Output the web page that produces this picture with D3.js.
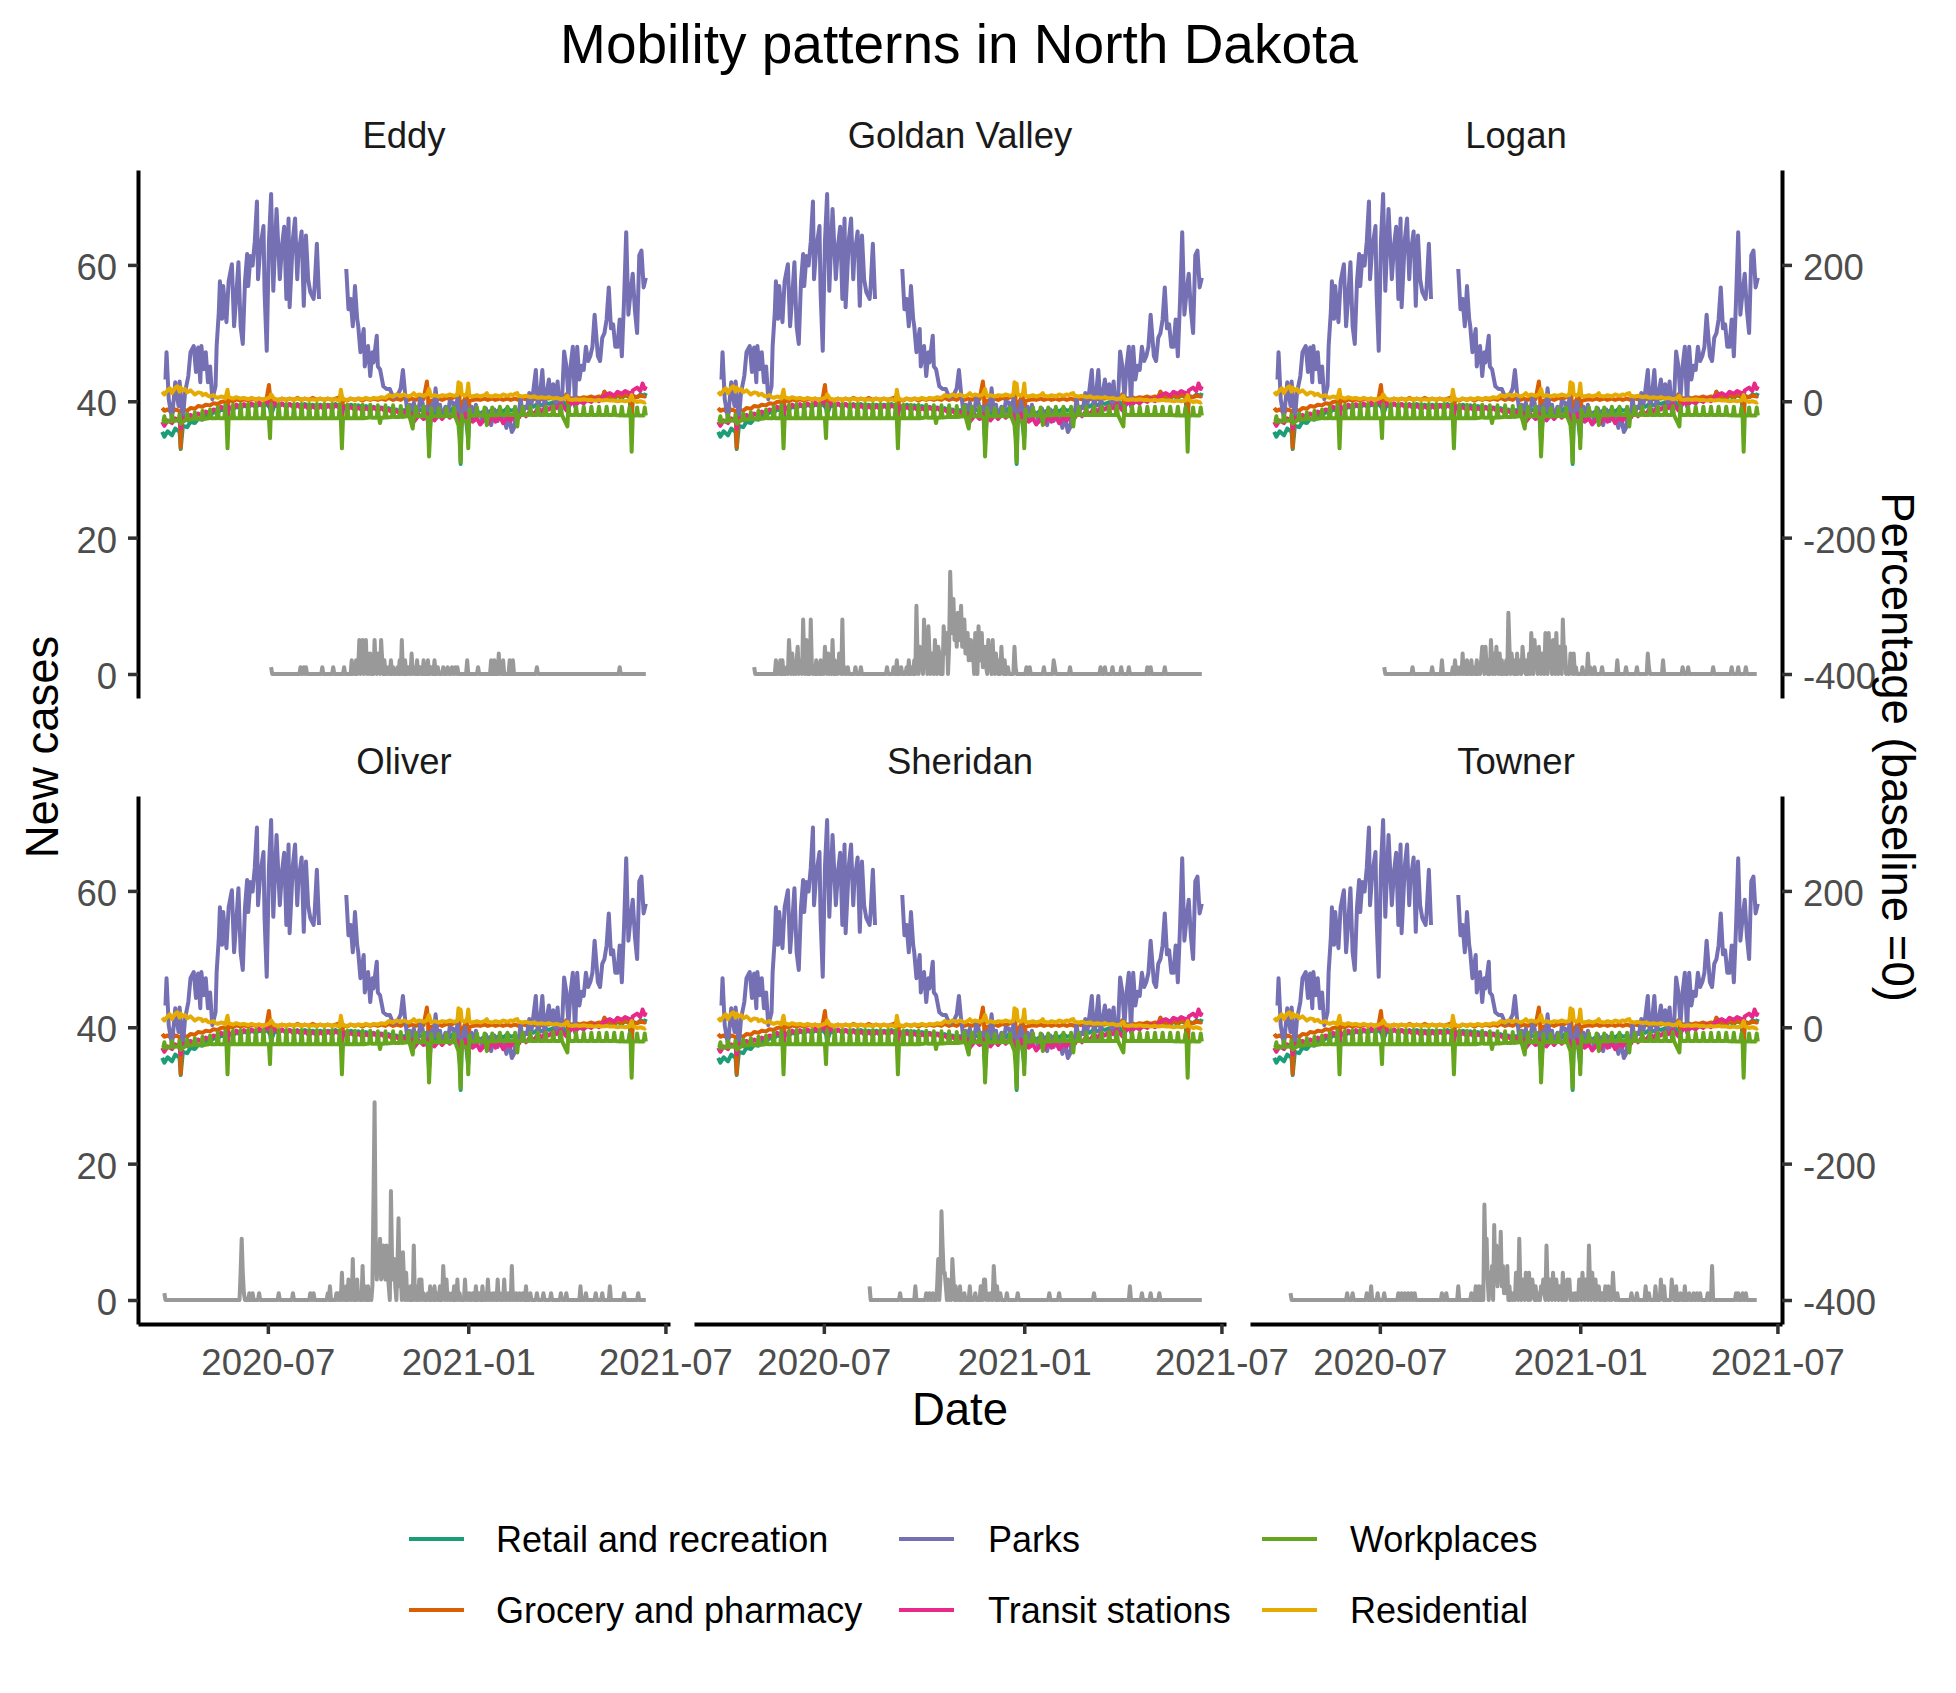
<!DOCTYPE html>
<html>
<head>
<meta charset="utf-8">
<script src="https://cdn.jsdelivr.net/npm/d3@7"></script>
<style>
  body { margin: 0; background: #fff; }
  text { font-family: "Liberation Sans", Arial, sans-serif; }
</style>
</head>
<body>
<svg id="chart" width="1956" height="1693"></svg>
<script>
// Day 0 of every series below is 2020-03-26
var startDay = new Date(2020, 2, 26);

var counties = ["Eddy", "Goldan Valley", "Logan", "Oliver", "Sheridan", "Towner"];
var categories = ["Retail and recreation", "Grocery and pharmacy", "Parks", "Transit stations", "Workplaces", "Residential"];
var colors = ["#1b9e77", "#d95f02", "#7570b3", "#e7298a", "#66a61e", "#e6ab02"];

var xTicksLabel = "%Y-%m";
var leftTicks = [0, 20, 40, 60];
var rightTicks = [-400, -200, 0, 200];

// Mobility, percent change from baseline: [day, pct]
var retail = [[0,-45],[2,-52],[5,-44],[9,-50],[12,-40],[16,-45],[17,-70],[19,-36],[23,-38],[26,-30],[30,-32],[33,-26],[37,-27],[40,-20],[44,-22],[47,-16],[51,-17],[54,-12],[58,-14],[60,-30],[61,-10],[65,-12],[68,-8],[72,-10],[75,-6],[79,-9],[82,-5],[86,-8],[89,-5],[93,-7],[96,-4],[99,-10],[100,-20],[103,-6],[107,-8],[110,-4],[114,-7],[117,-4],[121,-8],[124,-4],[128,-7],[131,-4],[135,-8],[138,-5],[142,-8],[145,-5],[149,-8],[152,-5],[156,-7],[159,-4],[163,-8],[165,-30],[166,-6],[170,-9],[173,-5],[177,-8],[180,-6],[184,-9],[187,-7],[191,-10],[194,-8],[198,-11],[201,-9],[205,-12],[208,-10],[212,-14],[215,-12],[219,-16],[222,-13],[226,-16],[229,-14],[233,-18],[236,-12],[240,-15],[243,-8],[245,-60],[247,-12],[250,-18],[254,-14],[257,-17],[261,-10],[264,-15],[268,-8],[271,-10],[273,-20],[274,-92],[275,-25],[278,-15],[281,-55],[282,-20],[285,-18],[289,-15],[292,-18],[296,-14],[299,-17],[303,-12],[306,-16],[310,-12],[313,-15],[317,-10],[320,-14],[324,-12],[327,-15],[331,-8],[334,-10],[338,-5],[341,-8],[345,-3],[348,-6],[352,-2],[355,-4],[359,-1],[362,-3],[366,0],[369,-2],[373,-18],[374,2],[376,-1],[380,3],[383,0],[387,4],[390,1],[394,5],[397,2],[401,6],[404,3],[406,14],[408,4],[411,7],[415,4],[418,8],[422,5],[425,9],[429,6],[431,-35],[432,8],[436,6],[439,10],[443,8],[444,12]];

var grocery = [[0,-10],[2,-14],[5,-12],[9,-16],[12,-12],[16,-14],[17,-68],[18,-25],[19,-12],[23,-14],[26,-10],[30,-11],[33,-7],[37,-8],[40,-5],[44,-6],[47,-3],[51,-4],[54,-1],[58,0],[60,-20],[61,2],[65,0],[68,3],[72,1],[75,3],[79,1],[82,4],[86,2],[89,4],[93,2],[96,5],[98,24],[99,8],[100,-10],[103,3],[107,2],[110,4],[114,2],[117,4],[121,2],[124,5],[128,2],[131,4],[135,2],[138,5],[142,2],[145,4],[149,2],[152,4],[156,2],[159,4],[163,6],[164,10],[165,-25],[166,3],[170,1],[173,4],[177,2],[180,4],[184,1],[187,4],[191,2],[194,4],[198,2],[201,4],[205,2],[208,5],[212,2],[215,4],[219,2],[222,5],[226,2],[229,4],[233,2],[236,5],[240,3],[243,29],[244,12],[245,-50],[246,0],[250,2],[254,4],[257,2],[261,5],[264,3],[268,6],[271,8],[272,18],[273,5],[274,-60],[275,-5],[278,4],[280,12],[281,-30],[282,0],[285,2],[289,3],[292,2],[296,4],[299,2],[303,4],[306,2],[310,4],[313,2],[317,4],[320,2],[324,4],[327,2],[331,4],[334,3],[338,5],[341,3],[345,5],[348,3],[352,5],[355,4],[359,6],[362,4],[366,6],[369,4],[371,10],[373,-5],[374,5],[376,4],[380,6],[383,4],[387,6],[390,5],[394,7],[397,5],[401,7],[404,6],[406,14],[408,6],[411,8],[415,6],[418,9],[422,7],[425,9],[429,8],[430,12],[431,-20],[432,7],[436,6],[439,8],[443,7],[444,8]];

// Parks has no values between late August and mid September 2020
var parks = [[3,32],[4,72],[6,3],[9,-26],[12,28],[15,-7],[16,29],[19,-26],[21,13],[24,37],[26,72],[29,81],[31,43],[33,79],[35,28],[36,81],[38,47],[40,72],[42,28],[44,51],[46,3],[49,22],[50,81],[52,131],[53,176],[55,121],[56,169],[59,116],[61,176],[64,201],[66,110],[68,154],[70,204],[72,110],[74,84],[76,175],[78,216],[79,169],[81,213],[83,199],[85,234],[87,293],[88,179],[90,224],[93,257],[94,160],[96,74],[98,234],[100,304],[102,162],[105,282],[108,179],[110,228],[112,256],[114,150],[116,268],[117,138],[120,238],[122,268],[124,179],[125,213],[128,249],[130,140],[132,243],[134,179],[136,160],[139,150],[140,169],[142,231],[144,150],[156,null],[169,194],[171,135],[173,150],[175,110],[177,169],[179,121],[180,110],[182,72],[185,106],[186,51],[189,81],[191,37],[193,72],[194,57],[197,96],[198,51],[200,47],[203,22],[206,18],[209,18],[212,6],[215,7],[217,12],[219,19],[221,46],[223,12],[225,-15],[227,-5],[229,-12],[231,-2],[233,-20],[235,-15],[237,5],[239,-2],[241,-25],[243,-8],[245,-30],[247,-5],[249,-15],[251,19],[253,-15],[255,-5],[257,-25],[260,-8],[262,-20],[264,0],[267,-2],[269,-22],[271,5],[274,-30],[276,-18],[278,0],[281,-25],[284,-8],[286,-28],[288,-5],[290,-20],[292,-18],[294,-30],[297,-10],[300,-22],[302,-35],[305,-12],[308,-29],[311,-18],[314,-25],[316,-39],[318,-20],[321,-45],[323,-39],[325,-15],[327,-25],[329,5],[331,-20],[333,-8],[335,-10],[337,12],[339,-5],[341,19],[343,46],[345,-15],[347,12],[349,46],[351,-8],[353,12],[355,32],[357,5],[359,25],[361,-2],[363,29],[365,-15],[367,-2],[369,73],[371,52],[373,5],[375,52],[377,80],[379,-8],[381,80],[383,32],[385,52],[387,46],[389,80],[391,59],[393,66],[395,80],[397,127],[400,66],[402,59],[404,93],[406,100],[408,120],[410,167],[412,107],[414,113],[416,80],[418,80],[420,120],[422,66],[424,147],[426,248],[428,127],[430,160],[432,187],[434,133],[436,100],[438,214],[440,221],[442,167],[444,181]];

var transit = [[0,-30],[2,-36],[5,-28],[9,-32],[12,-25],[16,-30],[17,-40],[19,-24],[23,-28],[26,-20],[30,-25],[33,-18],[37,-22],[40,-15],[44,-18],[47,-12],[51,-14],[54,-8],[58,-12],[60,-20],[61,-8],[65,-12],[68,-5],[72,-10],[75,-4],[79,-9],[82,-3],[86,-8],[89,-2],[93,-7],[96,2],[99,-6],[100,-12],[103,-2],[107,-8],[110,-3],[114,-9],[117,-4],[121,-10],[124,-5],[128,-11],[131,-6],[135,-12],[138,-7],[142,-12],[145,-7],[149,-12],[152,-6],[156,-11],[159,-6],[163,-10],[165,-18],[166,-8],[170,-13],[173,-8],[177,-13],[180,-9],[184,-14],[187,-10],[191,-14],[194,-9],[198,-14],[201,-10],[205,-15],[208,-12],[212,-18],[215,-14],[219,-20],[222,-15],[226,-22],[229,-18],[231,-30],[233,-26],[236,-20],[240,-26],[243,-18],[245,-40],[247,-22],[250,-28],[252,-24],[254,-20],[257,-26],[261,-18],[264,-24],[268,-16],[271,-20],[274,-50],[275,-25],[278,-18],[281,-40],[282,-22],[285,-30],[289,-25],[292,-34],[296,-26],[299,-33],[301,-28],[303,-20],[306,-30],[310,-22],[313,-32],[317,-24],[320,-28],[324,-18],[327,-25],[331,-16],[334,-22],[338,-14],[341,-20],[345,-10],[348,-15],[352,-8],[355,-12],[359,-6],[362,-10],[366,-4],[369,-9],[371,-13],[373,-8],[376,-2],[380,-5],[383,0],[387,-3],[390,2],[394,-1],[397,4],[401,0],[404,6],[408,10],[411,12],[415,8],[418,14],[422,11],[425,15],[429,12],[431,8],[432,16],[436,20],[439,15],[441,26],[443,18],[444,22]];

var workplaces = [[0,-30],[1,-30],[2,-22],[3,-30],[8,-29],[9,-20],[10,-29],[15,-28],[16,-20],[17,-33],[22,-27],[23,-18],[24,-27],[29,-26],[30,-16],[31,-26],[36,-26],[37,-14],[38,-26],[43,-25],[44,-12],[45,-25],[50,-25],[51,-8],[52,-25],[57,-25],[58,-5],[59,-25],[60,-69],[61,-25],[64,-25],[65,-5],[66,-25],[71,-25],[72,-4],[73,-25],[78,-25],[79,-4],[80,-25],[85,-25],[86,-4],[87,-25],[92,-25],[93,-4],[94,-25],[98,-25],[99,-54],[100,-4],[101,-25],[106,-25],[107,-4],[108,-25],[113,-25],[114,-4],[115,-25],[120,-25],[121,-4],[122,-25],[127,-25],[128,-4],[129,-25],[134,-25],[135,-4],[136,-25],[141,-25],[142,-4],[143,-25],[148,-25],[149,-4],[150,-25],[155,-25],[156,-4],[157,-25],[162,-25],[163,-4],[164,-25],[165,-69],[166,-25],[169,-25],[170,-5],[171,-25],[176,-25],[177,-5],[178,-25],[183,-25],[184,-5],[185,-25],[190,-24],[191,-5],[192,-24],[197,-24],[198,-6],[199,-24],[200,-32],[201,-24],[204,-24],[205,-6],[206,-24],[211,-23],[212,-6],[213,-23],[218,-23],[219,-7],[220,-23],[225,-22],[226,-7],[227,-22],[230,-40],[231,-22],[232,-22],[233,-8],[234,-22],[239,-22],[240,-8],[241,-22],[244,-24],[245,-81],[246,-45],[247,-10],[248,-22],[253,-22],[254,-10],[255,-22],[260,-22],[261,-10],[262,-22],[267,-22],[268,-9],[269,-22],[272,-35],[273,-55],[274,-89],[275,-20],[276,-28],[280,-30],[281,-69],[282,-12],[283,-21],[288,-21],[289,-9],[290,-21],[295,-21],[296,-9],[297,-21],[298,-35],[299,-21],[302,-21],[303,-9],[304,-21],[309,-20],[310,-8],[311,-20],[316,-20],[317,-8],[318,-20],[323,-20],[324,-8],[325,-20],[326,-37],[327,-20],[330,-20],[331,-8],[332,-20],[337,-20],[338,-8],[339,-20],[344,-20],[345,-8],[346,-20],[351,-20],[352,-8],[353,-20],[358,-20],[359,-7],[360,-20],[365,-20],[366,-7],[367,-20],[372,-37],[373,-7],[374,-20],[379,-20],[380,-8],[381,-20],[386,-20],[387,-8],[388,-20],[393,-20],[394,-8],[395,-20],[400,-20],[401,-8],[402,-20],[407,-20],[408,-8],[409,-20],[414,-20],[415,-8],[416,-20],[421,-21],[422,-8],[423,-21],[428,-21],[429,-9],[430,-21],[431,-74],[432,-21],[435,-21],[436,-9],[437,-21],[442,-21],[443,-9],[444,-21]];

var residential = [[0,14],[2,10],[5,16],[7,19],[9,12],[12,20],[14,22],[16,14],[17,20],[19,16],[21,18],[23,13],[26,16],[28,13],[30,10],[33,13],[36,12],[37,9],[40,11],[42,8],[44,7],[47,9],[49,6],[51,5],[54,7],[57,6],[58,4],[60,17],[61,6],[65,4],[68,6],[72,4],[75,5],[79,3],[82,5],[86,3],[89,4],[93,2],[96,4],[99,6],[100,10],[103,3],[107,2],[110,4],[114,2],[117,4],[121,2],[124,4],[128,2],[131,4],[135,2],[138,3],[142,2],[145,4],[149,2],[152,4],[156,2],[159,3],[163,1],[164,17],[165,8],[166,3],[170,2],[173,4],[177,2],[180,4],[184,3],[187,5],[191,3],[194,5],[198,4],[201,6],[205,5],[208,9],[212,7],[215,10],[219,8],[222,10],[226,7],[229,9],[231,12],[233,8],[236,10],[240,8],[243,10],[245,18],[246,12],[247,7],[250,9],[254,7],[257,9],[261,8],[264,10],[268,8],[271,9],[272,28],[273,22],[274,26],[275,10],[278,8],[280,12],[281,26],[282,8],[285,7],[289,9],[292,7],[296,9],[298,12],[299,8],[303,7],[306,9],[310,7],[313,10],[317,8],[320,10],[322,9],[324,11],[326,12],[327,8],[331,7],[334,8],[338,6],[341,7],[345,5],[348,6],[352,5],[355,6],[359,4],[362,5],[366,3],[369,4],[372,8],[373,3],[376,2],[380,3],[383,2],[387,3],[390,2],[394,2],[397,1],[401,2],[404,1],[408,2],[411,1],[415,1],[418,0],[422,1],[425,0],[429,1],[431,9],[432,2],[436,-1],[439,0],[443,-2],[444,-1]];

// New cases per county: first and last reported day, and the days with cases [day, count]
var caseFirst = [100, 33, 101, 2, 139, 15];
var caseLast = [444, 444, 443, 444, 444, 443];

var eddyCases = [[100,1],[127,1],[130,1],[132,1],[147,1],[157,1],[167,1],[174,2],[176,1],[178,2],[180,1],[181,5],[183,2],[184,5],[186,1],[187,5],[189,3],[191,3],[193,2],[195,5],[196,1],[198,3],[199,1],[201,5],[202,2],[204,2],[206,1],[208,1],[210,2],[212,1],[216,1],[218,2],[220,5],[223,2],[226,1],[229,3],[231,1],[234,2],[237,1],[240,2],[244,2],[247,1],[250,2],[253,1],[258,1],[262,1],[266,1],[269,1],[271,1],[280,2],[290,1],[302,2],[305,2],[309,3],[311,1],[313,2],[319,2],[322,2],[344,1],[420,1]];

var goldanCases = [[33,1],[53,2],[55,1],[57,2],[59,2],[63,1],[65,5],[66,2],[68,3],[70,1],[72,2],[73,4],[75,2],[76,1],[78,8],[79,2],[81,5],[83,2],[85,8],[86,1],[88,1],[90,2],[92,1],[94,2],[96,1],[98,4],[99,1],[101,3],[103,1],[105,5],[107,2],[109,1],[111,3],[112,1],[114,8],[116,1],[119,1],[126,1],[131,1],[155,1],[161,1],[164,2],[168,1],[173,1],[175,2],[178,1],[180,2],[182,10],[183,3],[185,4],[186,1],[187,3],[189,8],[190,2],[191,4],[193,7],[194,3],[196,3],[197,2],[199,5],[200,2],[202,4],[203,3],[205,2],[207,7],[208,4],[209,3],[210,6],[212,4],[213,15],[214,9],[215,6],[216,11],[217,5],[218,7],[219,4],[220,9],[221,5],[222,6],[223,10],[224,4],[225,5],[226,8],[227,3],[228,4],[229,6],[230,2],[231,3],[232,5],[233,2],[234,3],[236,6],[237,2],[239,7],[240,3],[241,2],[242,6],[243,1],[244,2],[245,4],[246,1],[248,5],[249,1],[250,2],[252,5],[253,1],[255,3],[256,1],[258,2],[260,4],[261,1],[263,2],[266,1],[272,4],[273,1],[283,1],[286,1],[299,1],[308,2],[309,1],[323,1],[351,1],[355,1],[362,1],[370,1],[377,1],[394,1],[397,1],[410,1]];

var loganCases = [[101,1],[127,1],[145,1],[154,2],[164,1],[166,2],[168,1],[171,1],[173,3],[175,1],[177,2],[179,1],[181,2],[183,1],[186,2],[188,1],[190,2],[191,4],[192,2],[194,4],[195,1],[197,2],[199,5],[200,2],[202,3],[204,4],[205,1],[207,3],[209,2],[211,1],[213,2],[215,9],[216,4],[218,3],[219,1],[221,2],[223,3],[225,1],[226,2],[228,4],[229,2],[230,1],[232,2],[234,3],[236,6],[237,3],[239,5],[240,2],[241,3],[243,4],[244,1],[246,3],[247,2],[249,6],[250,3],[252,6],[253,2],[254,4],[256,5],[257,3],[259,6],[260,2],[262,4],[263,3],[265,8],[266,3],[267,4],[269,1],[272,3],[273,1],[275,3],[277,1],[283,1],[288,3],[290,1],[294,1],[301,1],[315,2],[323,1],[333,1],[343,3],[344,1],[357,2],[375,1],[380,1],[403,1],[420,1],[426,1],[433,1]];

var oliverCases = [[2,1],[72,4],[73,9],[74,4],[75,1],[80,1],[83,1],[89,1],[107,1],[120,1],[136,1],[139,1],[152,1],[154,2],[160,1],[162,1],[165,4],[167,1],[169,2],[171,3],[173,1],[175,6],[177,2],[179,3],[181,1],[184,5],[186,2],[189,2],[191,1],[193,2],[194,15],[195,29],[196,9],[197,3],[198,6],[199,4],[200,9],[201,3],[202,4],[203,8],[204,6],[205,3],[206,8],[207,4],[208,2],[210,16],[211,6],[212,3],[213,6],[214,2],[216,5],[217,12],[218,2],[219,4],[221,7],[222,3],[224,4],[226,1],[228,2],[231,8],[233,2],[236,3],[238,3],[240,1],[244,1],[246,2],[248,1],[250,2],[252,1],[255,2],[258,5],[259,2],[261,3],[263,1],[266,1],[268,2],[271,3],[273,1],[278,3],[280,1],[282,1],[285,1],[288,2],[291,1],[294,2],[296,1],[299,3],[301,1],[304,1],[306,1],[308,3],[310,1],[314,3],[316,1],[318,1],[321,5],[323,1],[325,1],[328,1],[331,1],[334,2],[338,1],[344,1],[350,1],[357,1],[366,1],[371,1],[384,2],[389,1],[398,1],[404,1],[411,2],[424,1],[437,1]];

var sheridanCases = [[139,2],[167,1],[181,2],[191,1],[194,1],[197,1],[201,2],[202,6],[204,3],[205,13],[206,8],[207,4],[208,4],[209,2],[211,3],[213,1],[215,6],[216,3],[218,2],[220,1],[222,2],[226,1],[231,2],[236,1],[241,2],[244,3],[245,3],[247,1],[250,1],[253,5],[254,2],[256,2],[259,1],[265,1],[275,1],[304,1],[313,1],[345,1],[378,2],[389,1],[397,1],[405,1]];

var townerCases = [[15,1],[67,1],[72,1],[85,1],[89,2],[95,1],[101,1],[114,1],[117,1],[120,1],[123,1],[126,1],[129,1],[154,1],[158,1],[169,2],[181,1],[185,2],[188,2],[191,2],[193,14],[194,6],[195,9],[196,3],[198,4],[199,1],[200,5],[202,11],[203,3],[204,8],[205,2],[206,5],[207,3],[208,10],[209,2],[210,5],[211,1],[212,3],[213,1],[214,5],[216,2],[218,1],[220,1],[222,4],[223,1],[225,9],[226,2],[228,3],[229,1],[231,4],[232,1],[234,4],[236,1],[237,3],[238,1],[240,2],[242,1],[245,2],[246,1],[247,3],[248,1],[250,8],[251,2],[253,3],[254,1],[256,4],[257,1],[259,3],[260,1],[262,2],[263,1],[265,4],[267,1],[269,3],[270,1],[271,3],[273,1],[276,1],[278,1],[280,3],[281,1],[283,4],[284,1],[286,3],[287,1],[289,8],[290,2],[292,4],[293,1],[295,3],[297,1],[298,2],[301,1],[304,2],[306,1],[307,2],[309,1],[311,4],[312,1],[315,1],[328,1],[333,1],[341,2],[344,1],[350,2],[355,3],[356,1],[358,2],[365,3],[366,1],[369,2],[373,1],[377,2],[381,1],[385,1],[388,1],[391,1],[398,1],[402,5],[424,1],[426,1],[430,1],[433,1]];

var countyCases = [eddyCases, goldanCases, loganCases, oliverCases, sheridanCases, townerCases];

// ---- build the series ----
function dayDate(d) {
  return d3.timeDay.offset(startDay, d);
}

// percent is shown on the secondary axis: pct = (cases - 40) * 10
function pctToCases(p) {
  return p / 10 + 40;
}

var mobility = [retail, grocery, parks, transit, workplaces, residential].map(function (pts) {
  return pts.map(function (p) {
    return { date: dayDate(p[0]), v: p[1] == null ? null : pctToCases(p[1]) };
  });
});

var casesSeries = countyCases.map(function (spikes, i) {
  var lookup = new Map(spikes);
  return d3.range(caseFirst[i], caseLast[i] + 1).map(function (d) {
    return { date: dayDate(d), v: lookup.get(d) || 0 };
  });
});

// ---- layout ----
var svg = d3.select("#chart");
var W = 532, H = 528;
var colX = [138, 694, 1250];
var rowY = [170, 796];
var lineW = 4;

// shared scales with 5% padding, like ggplot
var allDates = [];
var allVals = [];
mobility.concat(casesSeries).forEach(function (s) {
  s.forEach(function (p) {
    allDates.push(p.date);
    if (p.v != null) allVals.push(p.v);
  });
});
var dExt = d3.extent(allDates);
var dPad = (dExt[1] - dExt[0]) * 0.05;
var x = d3.scaleTime()
  .domain([new Date(+dExt[0] - dPad), new Date(+dExt[1] + dPad)])
  .range([0, W]);

var vExt = d3.extent(allVals);
var vPad = (vExt[1] - vExt[0]) * 0.05;
var y = d3.scaleLinear()
  .domain([vExt[0] - vPad, vExt[1] + vPad])
  .range([H, 0]);
var y2 = d3.scaleLinear()
  .domain(y.domain().map(function (v) { return (v - 40) * 10; }))
  .range([H, 0]);

var line = d3.line()
  .defined(function (d) { return d.v != null; })
  .x(function (d) { return x(d.date); })
  .y(function (d) { return y(d.v); });

// plain hyphen for negative numbers, as in the original
var plainNum = function (d) { return String(d); };

function styleAxis(g) {
  g.select(".domain").attr("stroke", "#000").attr("stroke-width", 4);
  g.selectAll(".tick line").attr("stroke", "#333333").attr("stroke-width", 3.5);
  g.selectAll(".tick text")
    .attr("fill", "#4d4d4d")
    .attr("font-size", 36.5)
    .attr("font-family", "Liberation Sans, Arial, sans-serif");
}

counties.forEach(function (name, i) {
  var col = i % 3, row = Math.floor(i / 3);
  var g = svg.append("g").attr("transform", "translate(" + colX[col] + "," + rowY[row] + ")");

  // strip label
  g.append("text")
    .attr("x", W / 2)
    .attr("y", -22)
    .attr("text-anchor", "middle")
    .attr("font-size", 36.5)
    .attr("fill", "#1a1a1a")
    .text(name);

  // new cases
  g.append("path")
    .datum(casesSeries[i])
    .attr("fill", "none")
    .attr("stroke", "#999999")
    .attr("stroke-width", lineW)
    .attr("stroke-linejoin", "round")
    .attr("d", line);

  // mobility lines
  mobility.forEach(function (s, k) {
    g.append("path")
      .datum(s)
      .attr("fill", "none")
      .attr("stroke", colors[k])
      .attr("stroke-width", lineW)
      .attr("stroke-linejoin", "round")
      .attr("d", line);
  });

  if (col === 0) {
    var ax = g.append("g")
      .call(d3.axisLeft(y).tickValues(leftTicks).tickFormat(plainNum)
        .tickSize(10).tickSizeOuter(0).tickPadding(11));
    ax.selectAll(".tick text").attr("dy", "0.4em");
    styleAxis(ax);
  }
  if (col === 2) {
    var ar = g.append("g")
      .attr("transform", "translate(" + W + ",0)")
      .call(d3.axisRight(y2).tickValues(rightTicks).tickFormat(plainNum)
        .tickSize(10).tickSizeOuter(0).tickPadding(11));
    ar.selectAll(".tick text").attr("dy", "0.4em");
    styleAxis(ar);
  }
  if (row === 1) {
    var axb = g.append("g")
      .attr("transform", "translate(0," + H + ")")
      .call(d3.axisBottom(x).ticks(d3.timeMonth.every(6)).tickFormat(d3.timeFormat(xTicksLabel))
        .tickSize(10).tickSizeOuter(0).tickPadding(15));
    styleAxis(axb);
  }
});

// titles
svg.append("text")
  .attr("x", 959).attr("y", 63)
  .attr("text-anchor", "middle")
  .attr("font-size", 55)
  .attr("fill", "#000")
  .text("Mobility patterns in North Dakota");

svg.append("text")
  .attr("x", 960).attr("y", 1425)
  .attr("text-anchor", "middle")
  .attr("font-size", 45.5)
  .attr("fill", "#000")
  .text("Date");

svg.append("text")
  .attr("transform", "translate(58,747) rotate(-90)")
  .attr("text-anchor", "middle")
  .attr("font-size", 45.5)
  .attr("fill", "#000")
  .text("New cases");

svg.append("text")
  .attr("transform", "translate(1882,747) rotate(90)")
  .attr("text-anchor", "middle")
  .attr("font-size", 45.5)
  .attr("fill", "#000")
  .text("Percentage (baseline =0)");

// legend, filled column by column
var legendKeyX = [409, 899, 1262];
var legendTextX = [496, 988, 1350];
var legendRowY = [1539, 1610];
categories.forEach(function (c, k) {
  var col = Math.floor(k / 2), row = k % 2;
  svg.append("line")
    .attr("x1", legendKeyX[col]).attr("x2", legendKeyX[col] + 55)
    .attr("y1", legendRowY[row]).attr("y2", legendRowY[row])
    .attr("stroke", colors[k])
    .attr("stroke-width", 4);
  svg.append("text")
    .attr("x", legendTextX[col])
    .attr("y", legendRowY[row] + 13)
    .attr("font-size", 36)
    .attr("fill", "#000")
    .text(c);
});
</script>
</body>
</html>
